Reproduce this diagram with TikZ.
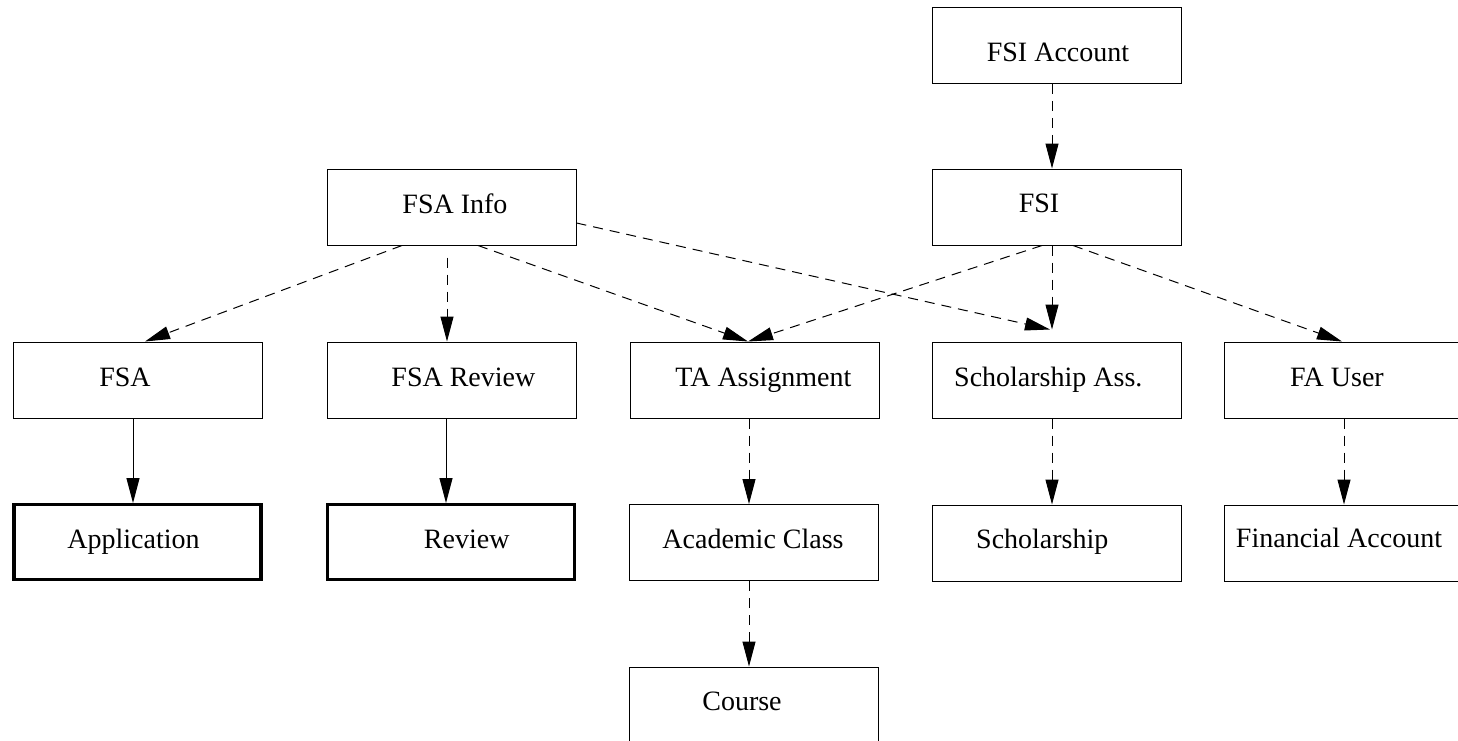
\documentclass[tikz,border=0pt]{standalone}
\usepackage{fontspec}
\setmainfont{Liberation Serif}
\usetikzlibrary{arrows.meta,calc}

\tikzset{
  box/.style={draw, rectangle, minimum width=124.5pt, minimum height=38pt,
              inner sep=0pt, line width=0.5pt},
  weakbox/.style={box, line width=1.65pt, minimum width=123.5pt, minimum height=37.3pt},
  lbl/.style={anchor=base, inner sep=0pt, font=\fontsize{14}{16}\selectfont},
  tip/.style={-{Triangle[length=12.5pt,width=6.5pt]}},
  dep/.style={tip, line width=0.5pt, dash pattern=on 5pt off 3.5pt},
  own/.style={tip, line width=0.5pt}
}

\begin{document}
\begin{tikzpicture}[x=0.5pt, y=-0.5pt]
\useasboundingbox (0,0) rectangle (1458,740);
\clip (0,0) rectangle (1458,740);

% entity boxes
\node[box] (fsiacc)  at (1057,45.3)  {};
\node[box] (fsi)     at (1057,207)   {};
\node[box] (fsainfo) at (451.5,207)  {};
\node[box] (fsa)     at (137.5,380)  {};
\node[box] (fsarev)  at (451.5,380)  {};
\node[box] (ta)      at (754.5,380)  {};
\node[box] (schass)  at (1057,380)   {};
\node[box] (fauser)  at (1349,380)   {};
\node[weakbox] (app) at (137.5,542)  {};
\node[weakbox] (rev) at (451.3,542)  {};
\node[box] (acad)    at (754,542.5)  {};
\node[box] (sch)     at (1057,543)   {};
\node[box] (finacc)  at (1349,543)   {};
\node[box] (course)  at (754,705)    {};

% box captions
\node[lbl] (t-fsiacc)  at (1058,61.7)  {FSI Account};
\node[lbl] (t-fsi)     at (1039,212.7) {FSI};
\node[lbl] (t-fsainfo) at (455,213)    {FSA Info};
\node[lbl] (t-fsa)     at (125,386)    {FSA};
\node[lbl] (t-fsarev)  at (463.4,386)  {FSA Review};
\node[lbl] (t-ta)      at (763.4,386)  {TA Assignment};
\node[lbl] (t-schass)  at (1048.3,386) {Scholarship Ass.};
\node[lbl] (t-fauser)  at (1337,386)   {FA User};
\node[lbl] (t-app)     at (133.5,548)  {Application};
\node[lbl] (t-rev)     at (466.7,548)  {Review};
\node[lbl] (t-acad)    at (753,548)    {Academic Class};
\node[lbl] (t-sch)     at (1042.3,548) {Scholarship};
\node[lbl] (t-finacc)  at (1339,547.5) {Financial Account};
\node[lbl] (t-course)  at (742,710.7)  {Course};

% dependencies
\draw[dep] (fsiacc.south -| 1052,0) -- (fsi.north -| 1052,0);
\draw[dep, shorten >=6pt] (fsi.south -| 1052,0) -- (schass.north -| 1052,0);
\draw[dep] (fsi.south -| 1042,0) -- (ta.north -| 748,0);
\draw[dep] (fsi.south -| 1073,0) -- (fauser.north -| 1342,0);
\draw[dep] (fsainfo.south -| 402,0) -- (fsa.north -| 145,0);
\draw[dep, shorten <=6pt] (fsainfo.south -| 447,0) -- (fsarev.north -| 447,0);
\draw[dep] (fsainfo.south -| 478,0) -- (ta.north -| 748,0);
\draw[dep] (fsainfo.east |- 0,223) -- ($(schass.north -| 1050,0)+(0,-12)$);
\draw[dep] (ta.south -| 749,0) -- (acad.north -| 749,0);
\draw[dep] (acad.south -| 749,0) -- (course.north -| 749,0);
\draw[dep] (schass.south -| 1052,0) -- (sch.north -| 1052,0);
\draw[dep] (fauser.south -| 1344,0) -- (finacc.north -| 1344,0);

% ownership
\draw[own] (fsa.south -| 133,0) -- (app.north -| 133,0);
\draw[own] (fsarev.south -| 446,0) -- (rev.north -| 446,0);
\end{tikzpicture}
\end{document}
